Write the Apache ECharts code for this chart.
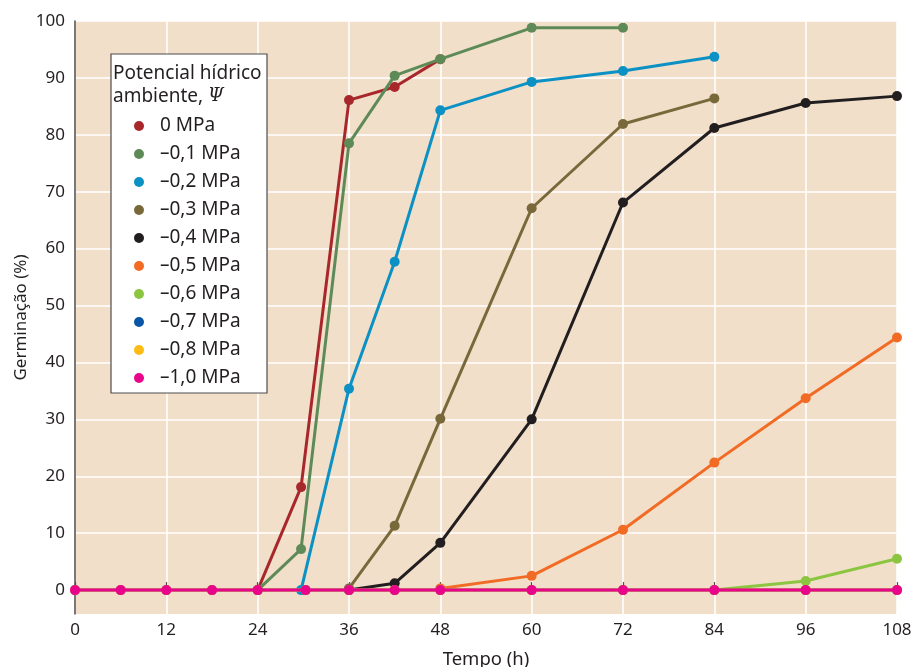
<!DOCTYPE html>
<html>
<head>
<meta charset="utf-8">
<script src="https://cdn.jsdelivr.net/npm/echarts@6/dist/echarts.min.js"></script>
<style>
html,body{margin:0;padding:0;background:#fff;}
#c{width:914px;height:667px;}
</style>
</head>
<body>
<div id="c"></div>
<script>
// ---- data ----
const seriesNames = ['0 MPa','–0,1 MPa','–0,2 MPa','–0,3 MPa','–0,4 MPa','–0,5 MPa','–0,6 MPa','–0,7 MPa','–0,8 MPa','–1,0 MPa'];
const colors = ['#a8272b','#5e8a58','#0b91c4','#79693a','#221e1f','#f26b25','#8cc640','#0a56a6','#fdbb14','#e8058b'];

const t00 = [24, 29.7, 36, 42, 48];
const v00 = [0, 18.1, 86.1, 88.4, 93.3];
const t01 = [24, 29.7, 36, 42, 48, 60, 72];
const v01 = [0, 7.2, 78.5, 90.4, 93.3, 98.8, 98.8];
const t02 = [29.7, 36, 42, 48, 60, 72, 84];
const v02 = [0, 35.4, 57.7, 84.3, 89.3, 91.2, 93.7];
const t03 = [36, 42, 48, 60, 72, 84];
const v03 = [0.3, 11.3, 30.1, 67.1, 81.9, 86.4];
const t04 = [36, 42, 48, 60, 72, 84, 96, 108];
const v04 = [0, 1.2, 8.3, 30.0, 68.1, 81.2, 85.6, 86.8];
const t05 = [48, 60, 72, 84, 96, 108];
const v05 = [0.3, 2.5, 10.6, 22.4, 33.7, 44.4];
const t06 = [84, 96, 108];
const v06 = [0, 1.6, 5.5];
const t07 = [0, 6, 12, 18, 24, 30.3, 36, 42, 48, 60, 72, 84, 96, 108];
const v07 = [0, 0, 0, 0, 0, 0, 0, 0, 0, 0, 0, 0, 0, 0];
const t08 = [0, 6, 12, 18, 24, 30.3, 36, 42, 48, 60, 72, 84, 96, 108];
const v08 = [0, 0, 0, 0, 0, 0, 0, 0, 0, 0, 0, 0, 0, 0];
const t10 = [0, 6, 12, 18, 24, 30.3, 36, 42, 48, 60, 72, 84, 96, 108];
const v10 = [0, 0, 0, 0, 0, 0, 0, 0, 0, 0, 0, 0, 0, 0];

const xTicks = [0, 12, 24, 36, 48, 60, 72, 84, 96, 108];
const yTicks = [0, 10, 20, 30, 40, 50, 60, 70, 80, 90, 100];

const allT = [t00,t01,t02,t03,t04,t05,t06,t07,t08,t10];
const allV = [v00,v01,v02,v03,v04,v05,v06,v07,v08,v10];

const FONT = '"Noto Sans", "Open Sans", sans-serif';
const TXT = '#231f20';

const series = seriesNames.map((n, i) => ({
  name: n,
  type: 'line',
  data: allT[i].map((t, j) => [t, allV[i][j]]),
  symbol: 'circle',
  symbolSize: 10,
  lineStyle: { color: colors[i], width: 3 },
  itemStyle: { color: colors[i] },
  clip: false,
  z: 2 + i,
  animation: false
}));

const chart = echarts.init(document.getElementById('c'), null, {renderer: 'canvas'});
chart.setOption({
  animation: false,
  color: colors,
  grid: {
    left: 75, right: 17, top: 21, bottom: 53,
    outerBoundsMode: 'none',
    containLabel: false,
    show: true, backgroundColor: '#f1dfca', borderWidth: 0
  },
  xAxis: {
    type: 'value',
    min: 0, max: 108, interval: 12,
    name: 'Tempo (h)',
    nameLocation: 'middle',
    nameGap: 36,
    nameTextStyle: { fontFamily: FONT, fontSize: 18.5, color: TXT },
    axisLine: { show: true, lineStyle: { color: '#4d4d4f', width: 1.5 } },
    axisTick: { show: true, inside: true, length: 8, lineStyle: { color: '#4d4d4f', width: 1.2 }, customValues: xTicks },
    axisLabel: { fontFamily: FONT, fontSize: 17, color: TXT, margin: 8, customValues: xTicks },
    splitLine: { show: true, lineStyle: { color: '#ffffff', width: 1.6 } }
  },
  yAxis: {
    type: 'value',
    min: -4.2, max: 100,
    name: 'Germinação (%)',
    nameLocation: 'middle',
    nameGap: 45,
    nameMoveOverlap: false,
    nameTextStyle: { fontFamily: FONT, fontSize: 17, color: TXT },
    axisLine: { show: true, lineStyle: { color: '#4d4d4f', width: 1.5 } },
    axisTick: { show: false, customValues: yTicks },
    axisLabel: { fontFamily: FONT, fontSize: 17, color: TXT, margin: 10, customValues: yTicks },
    splitLine: { show: true, lineStyle: { color: '#ffffff', width: 1.6 } }
  },
  legend: {
    orient: 'vertical',
    left: 134, top: 114,
    z: 20,
    icon: 'circle',
    itemWidth: 10, itemHeight: 10,
    itemGap: 4,
    padding: 0,
    textStyle: { fontFamily: FONT, fontSize: 19, color: TXT, lineHeight: 24, padding: [0,0,0,11] },
    data: seriesNames,
    selectedMode: false
  },
  graphic: [
    { type: 'rect', shape: { x: 111, y: 54, width: 156, height: 339 },
      style: { fill: '#ffffff', stroke: '#4d4d4f', lineWidth: 1.2 }, z: 10 },
    { type: 'text', x: 113, y: 85, z: 11,
      style: {
        text: 'Potencial hídrico\nambiente, {psi|Ψ}',
        font: '19px ' + FONT, fill: TXT, lineHeight: 23,
        verticalAlign: 'middle',
        rich: { psi: { fontFamily: '"DejaVu Serif", "Liberation Serif", serif', fontStyle: 'italic', fontSize: 18, fill: TXT, lineHeight: 23 } }
      } }
  ],
  series: series
});
</script>
</body>
</html>
